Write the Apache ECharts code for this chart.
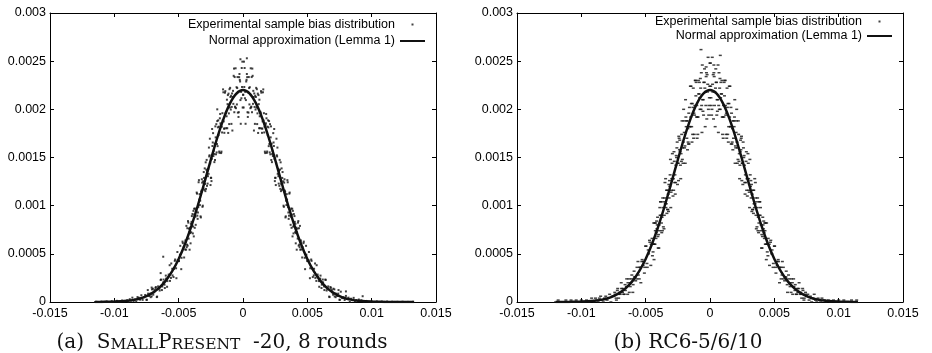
<!DOCTYPE html>
<html><head><meta charset="utf-8">
<script src="https://cdn.jsdelivr.net/npm/echarts@6/dist/echarts.min.js"></script>
<style>html,body{margin:0;padding:0;background:#fff}#c{width:932px;height:353px}</style>
</head><body><div id="c"></div>
<script>
// Units in the arrays below: x in 1e-4, y in 1e-6
const seriesNames = ['Experimental sample bias distribution', 'Normal approximation (Lemma 1)'];
const xRange = [-0.015, 0.015, 0.005];
const yRange = [0, 0.003, 0.0005];

const leftSamples = [
[-115,0],[-114,2],[-112,0],[-110,5],[-108,1],[-106,6],[-104,0],[-102,9],[-100,3],[-98,12],[-96,4],[-94,15],[-92,7],
[-90,18],[-89,0],[-88,29],[-87,14],[-86,45],[-85,11],[-84,26],[-83,3],[-82,51],[-81,44],[-80,24],[-79,70],[-78,22],[-77,50],[-76,73],[-75,23],[-74,124],[-73,62],[-72,87],[-71,58],[-70,138],[-69,102],[-68,145],[-67,51],[-66,162],[-65,140],[-64,229],[-63,124],[-62,204],[-61,180],[-60,274],[-59,158],[-58,263],[-57,382],[-56,250],[-55,345],[-54,259],[-53,427],[-52,350],[-51,519],[-50,425],[-49,491],[-48,341],[-47,627],[-46,571],[-45,545],[-44,790],[-43,585],[-42,761],[-41,715],[-40,832],[-39,712],[-38,968],[-37,886],[-36,1136],[-35,929],[-34,1063],[-33,889],[-32,1274],[-31,1252],[-30,1165],[-29,1450],[-28,1206],[-27,1382],[-26,1523],[-25,1289],[-24,1796],[-23,1515],[-22,1643],[-21,1533],[-20,1878],[-19,1732],[-18,1907],[-17,1546],[-16,1960],[-15,1875],[-14,2173],[-13,1804],[-12,2054],[-11,1958],[-10,2223],[-9,1849],[-8,2128],[-7,2423],[-6,2020],[-5,2230],[-4,1966],[-3,2334],[-2,2096],[-1,2429],[0,2151],[1,2232],[2,1850],[3,2367],[4,2178],[5,2051],[6,2426],[7,1970],[8,2192],[9,2025],[10,2128],[11,1847],[12,2148],[13,1928],[14,2189],[15,1799],[16,1884],[17,1561],[18,1952],[19,1820],[20,1618],[21,1846],[22,1474],[23,1570],[24,1619],[25,1289],[26,1695],[27,1330],[28,1360],[29,1174],[30,1387],[31,1180],[32,1239],[33,878],[34,1120],[35,985],[36,1125],[37,801],[38,906],[39,783],[40,892],[41,609],[42,723],[43,840],[44,569],[45,639],[46,462],[47,611],[48,459],[49,583],[50,425],[51,433],[52,247],[53,441],[54,343],[55,276],[56,400],[57,219],[58,285],[59,217],[60,243],[61,145],[62,233],[63,161],[64,233],[65,119],[66,141],[67,56],[68,156],[69,124],[70,76],[71,131],[72,50],[73,74],[74,87],[75,23],[76,107],[77,40],[78,50],[79,21],[80,63],[81,32],[82,45],[83,0],[84,34],[85,19],[86,43],[87,2],[88,20],[89,7],[90,26],
[-44.5,622],[-43.5,595],[-42.5,824],[-41.5,543],[-40.5,812],[-39.5,793],[-38.5,946],[-37.5,770],[-36.5,951],[-35.5,896],[-34.5,1243],[-33.5,1006],[-32.5,1144],[-31.5,988],[-30.5,1349],[-29.5,1226],[-28.5,1374],[-27.5,1229],[-26.5,1603],[-25.5,1440],[-24.5,1255],[-23.5,1656],[-22.5,1536],[-21.5,1823],[-20.5,1553],[-19.5,1813],[-18.5,1562],[-17.5,1855],[-16.5,1820],[-15.5,2207],[-14.5,1756],[-13.5,1959],[-12.5,2100],[-11.5,1755],[-10.5,2209],[-9.5,1998],[-8.5,2165],[-7.5,2057],[-6.5,2335],[-5.5,2012],[-4.5,2221],[-3.5,1921],[-2.5,2306],[-1.5,2181],[-0.5,2495],[0.5,2019],[1.5,2115],[2.5,2289],[3.5,1970],[4.5,2335],[5.5,2158],[6.5,2028],[7.5,2348],[8.5,1780],[9.5,2141],[10.5,2019],[11.5,2163],[12.5,1804],[13.5,1974],[14.5,1802],[15.5,2177],[16.5,1760],[17.5,1840],[18.5,1548],[19.5,1886],[20.5,1640],[21.5,1709],[22.5,1452],[23.5,1753],[24.5,1486],[25.5,1214],[26.5,1511],[27.5,1306],[28.5,1475],[29.5,1151],[30.5,1288],[31.5,1000],[32.5,1156],[33.5,1052],[34.5,1265],[35.5,863],[36.5,940],[37.5,970],[38.5,681],[39.5,913],[40.5,724],[41.5,771],[42.5,658],[43.5,766],[44.5,543],
[75.25,23],[74.25,124],[73.25,62],[72.25,87],[71.25,58],[70.25,138],[69.25,102],[68.25,145],[67.25,51],[66.25,162],[65.25,140],[64.25,229],[63.25,124],[62.25,204],[61.25,180],[60.25,274],[59.25,158],[58.25,263],[57.25,382],[56.25,250],[55.25,345],[54.25,259],[53.25,427],[52.25,350],[51.25,519],[50.25,425],[49.25,491],[48.25,341],[47.25,627],[46.25,571],[45.25,545],[44.25,790],[43.25,585],[42.25,761],[41.25,715],[40.25,832],[39.25,712],[38.25,968],[37.25,886],[36.25,1136],[35.25,929],[34.25,1063],[33.25,889],[32.25,1274],[31.25,1252],[30.25,1165],[29.25,1450],[28.25,1206],[27.25,1382],[26.25,1523],[25.25,1289],[24.25,1796],[23.25,1515],[22.25,1643],[21.25,1533],[20.25,1878],[19.25,1732],[18.25,1907],[17.25,1546],[16.25,1960],[15.25,1875],[14.25,2173],[13.25,1804],[12.25,2054],[11.25,1958],[10.25,2223],[9.25,1849],[8.25,2128],[7.25,2423],[6.25,2020],[5.25,2230],[4.25,1966],[3.25,2334],[2.25,2096],[1.25,2429],[0.25,2151],
[-0.75,2232],[-1.75,1850],[-2.75,2367],[-3.75,2178],[-4.75,2051],[-5.75,2426],[-6.75,1970],[-7.75,2192],[-8.75,2025],[-9.75,2128],[-10.75,1847],[-11.75,2148],[-12.75,1928],[-13.75,2189],[-14.75,1799],[-15.75,1884],[-16.75,1561],[-17.75,1952],[-18.75,1820],[-19.75,1618],[-20.75,1846],[-21.75,1474],[-22.75,1570],[-23.75,1619],[-24.75,1289],[-25.75,1695],[-26.75,1330],[-27.75,1360],[-28.75,1174],[-29.75,1387],[-30.75,1180],[-31.75,1239],[-32.75,878],[-33.75,1120],[-34.75,985],[-35.75,1125],[-36.75,801],[-37.75,906],[-38.75,783],[-39.75,892],[-40.75,609],[-41.75,723],[-42.75,840],[-43.75,569],[-44.75,639],[-45.75,462],[-46.75,611],[-47.75,459],[-48.75,583],[-49.75,425],[-50.75,433],[-51.75,247],[-52.75,441],[-53.75,343],[-54.75,276],[-55.75,400],[-56.75,219],[-57.75,285],[-58.75,217],[-59.75,243],[-60.75,145],[-61.75,233],[-62.75,161],[-63.75,233],[-64.75,119],[-65.75,141],[-66.75,56],[-67.75,156],[-68.75,124],[-69.75,76],[-70.75,131],[-71.75,50],[-72.75,74],[-73.75,87],[-74.75,23],
[44.75,622],[43.75,595],[42.75,824],[41.75,543],[40.75,812],[39.75,793],[38.75,946],[37.75,770],[36.75,951],[35.75,896],[34.75,1243],[33.75,1006],[32.75,1144],[31.75,988],[30.75,1349],[29.75,1226],[28.75,1374],[27.75,1229],[26.75,1603],[25.75,1440],[24.75,1255],[23.75,1656],[22.75,1536],[21.75,1823],[20.75,1553],[19.75,1813],[18.75,1562],[17.75,1855],[16.75,1820],[15.75,2207],[14.75,1756],[13.75,1959],[12.75,2100],[11.75,1755],[10.75,2209],[9.75,1998],[8.75,2165],[7.75,2057],[6.75,2335],[5.75,2012],[4.75,2221],[3.75,1921],[2.75,2306],[1.75,2181],[0.75,2495],
[-0.25,2019],[-1.25,2115],[-2.25,2289],[-3.25,1970],[-4.25,2335],[-5.25,2158],[-6.25,2028],[-7.25,2348],[-8.25,1780],[-9.25,2141],[-10.25,2019],[-11.25,2163],[-12.25,1804],[-13.25,1974],[-14.25,1802],[-15.25,2177],[-16.25,1760],[-17.25,1840],[-18.25,1548],[-19.25,1886],[-20.25,1640],[-21.25,1709],[-22.25,1452],[-23.25,1753],[-24.25,1486],[-25.25,1214],[-26.25,1511],[-27.25,1306],[-28.25,1475],[-29.25,1151],[-30.25,1288],[-31.25,1000],[-32.25,1156],[-33.25,1052],[-34.25,1265],[-35.25,863],[-36.25,940],[-37.25,970],[-38.25,681],[-39.25,913],[-40.25,724],[-41.25,771],[-42.25,658],[-43.25,766],[-44.25,543],
[92,18],[94,4],[96,11],[98,2],[100,9],[102,1],[104,6],[106,0],[108,4],[110,2],[112,5],[114,0],[116,3],[118,1],[120,2],[122,0],[124,3],[126,0],[128,1],[130,0],[132,2],
[-62,470],[-64,300],[-71,150],[80,110],[93,60],[-2,2520],[3,2530],[-20,2000]
];

const leftCurve = [
[-115,0.5],[-110,1],[-105,2],[-100,4],[-95,7],[-90,13],[-85,22],[-80,37],[-75,61],[-70,97],[-65,149],[-60,222],[-55,320],[-50,447],[-45,605],[-40,793],[-35,1007],[-30,1239],[-25,1477],[-20,1705],[-15,1906],[-10,2064],[-5,2165],[0,2200],[5,2165],[10,2064],[15,1906],[20,1705],[25,1477],[30,1239],[35,1007],[40,793],[45,605],[50,447],[55,320],[60,222],[65,149],[70,97],[75,61],[80,37],[85,22],[90,13],[95,7],[100,4],[105,2],[110,1],[115,0.5],[120,0.2],[125,0.1],[130,0],[133,0]
];

const rightSamples = [
[-120,0],[-118,20],[-116,0],[-114,0],[-112,20],[-110,0],[-108,20],[-106,0],[-104,20],[-102,0],[-100,20],[-98,0],[-96,20],[-94,0],[-92,40],
[-90,0],[-89,40],[-88,20],[-87,0],[-86,40],[-85,60],[-84,20],[-83,0],[-82,40],[-81,60],[-80,20],[-79,40],[-78,80],[-77,0],[-76,60],[-75,60],[-74,100],[-73,40],[-72,120],[-71,40],[-70,100],[-69,200],[-68,100],[-67,80],[-66,180],[-65,160],[-64,80],[-63,240],[-62,160],[-61,240],[-60,100],[-59,320],[-58,260],[-57,240],[-56,420],[-55,240],[-54,360],[-53,420],[-52,380],[-51,300],[-50,580],[-49,400],[-48,540],[-47,640],[-46,380],[-45,660],[-44,600],[-43,820],[-42,660],[-41,800],[-40,700],[-39,980],[-38,900],[-37,740],[-36,1040],[-35,1240],[-34,1020],[-33,960],[-32,1220],[-31,1320],[-30,1160],[-29,1280],[-28,1560],[-27,1120],[-26,1500],[-25,1440],[-24,1700],[-23,1420],[-22,1740],[-21,1440],[-20,1760],[-19,2100],[-18,1700],[-17,1660],[-16,2020],[-15,1920],[-14,1660],[-13,2220],[-12,1940],[-11,2140],[-10,1700],[-9,2300],[-8,2120],[-7,2000],[-6,2460],[-5,1940],[-4,2220],[-3,2340],[-2,2180],[-1,1940],[0,2480],[1,2040],[2,2260],[3,2380],[4,1820],[5,2280],[6,2100],[7,2380],[8,2000],[9,2160],[10,1920],[11,2280],[12,2040],[13,1700],[14,2060],[15,2240],[16,1820],[17,1640],[18,1880],[19,1920],[20,1600],[21,1660],[22,1880],[23,1280],[24,1580],[25,1440],[26,1600],[27,1240],[28,1460],[29,1100],[30,1280],[31,1480],[32,1080],[33,960],[34,1160],[35,1020],[36,760],[37,1080],[38,820],[39,900],[40,560],[41,880],[42,720],[43,600],[44,820],[45,480],[46,600],[47,620],[48,500],[49,360],[50,580],[51,360],[52,420],[53,440],[54,200],[55,360],[56,280],[57,360],[58,220],[59,260],[60,180],[61,280],[62,200],[63,100],[64,200],[65,240],[66,120],[67,80],[68,140],[69,140],[70,80],[71,80],[72,140],[73,20],[74,80],[75,60],[76,80],[77,20],[78,60],[79,0],[80,40],[81,80],[82,20],[83,0],[84,40],[85,20],[86,0],[87,40],[88,20],[89,20],[90,0],
[-44.5,600],[-43.5,440],[-42.5,740],[-41.5,840],[-40.5,680],[-39.5,800],[-38.5,1040],[-37.5,720],[-36.5,980],[-35.5,900],[-34.5,1280],[-33.5,920],[-32.5,1120],[-31.5,1260],[-30.5,980],[-29.5,1440],[-28.5,1280],[-27.5,1240],[-26.5,1420],[-25.5,1660],[-24.5,1260],[-23.5,1680],[-22.5,1540],[-21.5,1480],[-20.5,2000],[-19.5,1620],[-18.5,1820],[-17.5,1580],[-16.5,1960],[-15.5,1820],[-14.5,2060],[-13.5,1740],[-12.5,1960],[-11.5,2300],[-10.5,1920],[-9.5,1740],[-8.5,2160],[-7.5,2320],[-6.5,2040],[-5.5,1980],[-4.5,2280],[-3.5,2180],[-2.5,1900],[-1.5,2540],[-0.5,2120],[0.5,2240],[1.5,2000],[2.5,2360],[3.5,2040],[4.5,2420],[5.5,2100],[6.5,1760],[7.5,2220],[8.5,2280],[9.5,1920],[10.5,2040],[11.5,2300],[12.5,1740],[13.5,2020],[14.5,1820],[15.5,2240],[16.5,1640],[17.5,1800],[18.5,1880],[19.5,1440],[20.5,1880],[21.5,1600],[22.5,1460],[23.5,1560],[24.5,1720],[25.5,1220],[26.5,1520],[27.5,1320],[28.5,1160],[29.5,1540],[30.5,1140],[31.5,1200],[32.5,940],[33.5,1160],[34.5,980],[35.5,1080],[36.5,780],[37.5,880],[38.5,1040],[39.5,740],[40.5,560],[41.5,760],[42.5,820],[43.5,600],[44.5,520],
[75.25,60],[74.25,100],[73.25,40],[72.25,120],[71.25,40],[70.25,100],[69.25,200],[68.25,100],[67.25,80],[66.25,180],[65.25,160],[64.25,80],[63.25,240],[62.25,160],[61.25,240],[60.25,100],[59.25,320],[58.25,260],[57.25,240],[56.25,420],[55.25,240],[54.25,360],[53.25,420],[52.25,380],[51.25,300],[50.25,580],[49.25,400],[48.25,540],[47.25,640],[46.25,380],[45.25,660],[44.25,600],[43.25,820],[42.25,660],[41.25,800],[40.25,700],[39.25,980],[38.25,900],[37.25,740],[36.25,1040],[35.25,1240],[34.25,1020],[33.25,960],[32.25,1220],[31.25,1320],[30.25,1160],[29.25,1280],[28.25,1560],[27.25,1120],[26.25,1500],[25.25,1440],[24.25,1700],[23.25,1420],[22.25,1740],[21.25,1440],[20.25,1760],[19.25,2100],[18.25,1700],[17.25,1660],[16.25,2020],[15.25,1920],[14.25,1660],[13.25,2220],[12.25,1940],[11.25,2140],[10.25,1700],[9.25,2300],[8.25,2120],[7.25,2000],[6.25,2460],[5.25,1940],[4.25,2220],[3.25,2340],[2.25,2180],[1.25,1940],[0.25,2480],
[-0.75,2040],[-1.75,2260],[-2.75,2380],[-3.75,1820],[-4.75,2280],[-5.75,2100],[-6.75,2380],[-7.75,2000],[-8.75,2160],[-9.75,1920],[-10.75,2280],[-11.75,2040],[-12.75,1700],[-13.75,2060],[-14.75,2240],[-15.75,1820],[-16.75,1640],[-17.75,1880],[-18.75,1920],[-19.75,1600],[-20.75,1660],[-21.75,1880],[-22.75,1280],[-23.75,1580],[-24.75,1440],[-25.75,1600],[-26.75,1240],[-27.75,1460],[-28.75,1100],[-29.75,1280],[-30.75,1480],[-31.75,1080],[-32.75,960],[-33.75,1160],[-34.75,1020],[-35.75,760],[-36.75,1080],[-37.75,820],[-38.75,900],[-39.75,560],[-40.75,880],[-41.75,720],[-42.75,600],[-43.75,820],[-44.75,480],[-45.75,600],[-46.75,620],[-47.75,500],[-48.75,360],[-49.75,580],[-50.75,360],[-51.75,420],[-52.75,440],[-53.75,200],[-54.75,360],[-55.75,280],[-56.75,360],[-57.75,220],[-58.75,260],[-59.75,180],[-60.75,280],[-61.75,200],[-62.75,100],[-63.75,200],[-64.75,240],[-65.75,120],[-66.75,80],[-67.75,140],[-68.75,140],[-69.75,80],[-70.75,80],[-71.75,140],[-72.75,20],[-73.75,80],[-74.75,60],
[44.75,600],[43.75,440],[42.75,740],[41.75,840],[40.75,680],[39.75,800],[38.75,1040],[37.75,720],[36.75,980],[35.75,900],[34.75,1280],[33.75,920],[32.75,1120],[31.75,1260],[30.75,980],[29.75,1440],[28.75,1280],[27.75,1240],[26.75,1420],[25.75,1660],[24.75,1260],[23.75,1680],[22.75,1540],[21.75,1480],[20.75,2000],[19.75,1620],[18.75,1820],[17.75,1580],[16.75,1960],[15.75,1820],[14.75,2060],[13.75,1740],[12.75,1960],[11.75,2300],[10.75,1920],[9.75,1740],[8.75,2160],[7.75,2320],[6.75,2040],[5.75,1980],[4.75,2280],[3.75,2180],[2.75,1900],[1.75,2540],[0.75,2120],
[-0.25,2240],[-1.25,2000],[-2.25,2360],[-3.25,2040],[-4.25,2420],[-5.25,2100],[-6.25,1760],[-7.25,2220],[-8.25,2280],[-9.25,1920],[-10.25,2040],[-11.25,2300],[-12.25,1740],[-13.25,2020],[-14.25,1820],[-15.25,2240],[-16.25,1640],[-17.25,1800],[-18.25,1880],[-19.25,1440],[-20.25,1880],[-21.25,1600],[-22.25,1460],[-23.25,1560],[-24.25,1720],[-25.25,1220],[-26.25,1520],[-27.25,1320],[-28.25,1160],[-29.25,1540],[-30.25,1140],[-31.25,1200],[-32.25,940],[-33.25,1160],[-34.25,980],[-35.25,1080],[-36.25,780],[-37.25,880],[-38.25,1040],[-39.25,740],[-40.25,560],[-41.25,760],[-42.25,820],[-43.25,600],[-44.25,520],
[92,20],[94,0],[96,20],[98,0],[100,20],[102,0],[104,20],[106,0],[108,0],[110,20],[112,0],[114,20],
[-7,2620],[8,2560],[3,2460],[-3,2440]
];

const rightCurve = [
[-120,0.2],[-115,0.5],[-110,1],[-105,2],[-100,4],[-95,7],[-90,13],[-85,22],[-80,37],[-75,61],[-70,97],[-65,149],[-60,222],[-55,320],[-50,447],[-45,605],[-40,793],[-35,1007],[-30,1239],[-25,1477],[-20,1705],[-15,1906],[-10,2064],[-5,2165],[0,2200],[5,2165],[10,2064],[15,1906],[20,1705],[25,1477],[30,1239],[35,1007],[40,793],[45,605],[50,447],[55,320],[60,222],[65,149],[70,97],[75,61],[80,37],[85,22],[90,13],[95,7],[100,4],[105,2],[110,1],[115,0.5]
];

const conv = arr => arr.map(p => [p[0] * 1e-4, p[1] * 1e-6]);

const SANS = 'Liberation Sans';
const black = '#000';
const fs = 12.5;
const dotIcon = 'path://M0 0 L0 0 Z M25 2 L25 2 Z M11.5 0 L13.5 0 L13.5 2 L11.5 2 Z';

function axisX(grid, pos, labels) {
  return {
    type: 'value', gridIndex: grid, position: pos,
    min: xRange[0], max: xRange[1], interval: xRange[2],
    axisLine: { show: true, onZero: false, lineStyle: { color: black, width: 1 } },
    axisTick: { show: true, inside: true, length: 4, lineStyle: { color: black } },
    axisLabel: { show: labels, color: black, fontFamily: SANS, fontSize: fs, margin: 5 },
    splitLine: { show: false }
  };
}
function axisY(grid, pos, labels) {
  return {
    type: 'value', gridIndex: grid, position: pos,
    min: yRange[0], max: yRange[1], interval: yRange[2],
    axisLine: { show: true, onZero: false, lineStyle: { color: black, width: 1 } },
    axisTick: { show: true, inside: true, length: 4, lineStyle: { color: black } },
    axisLabel: { show: labels, color: black, fontFamily: SANS, fontSize: fs, margin: 4 },
    splitLine: { show: false }
  };
}

function legend(right, top, gap) {
  return {
    orient: 'vertical', align: 'right', right: right, top: top, padding: 0,
    itemGap: gap, itemWidth: 25, itemHeight: 2, selectedMode: false,
    textStyle: { color: black, fontFamily: SANS, fontSize: fs },
    data: [{ name: seriesNames[0], icon: dotIcon }, { name: seriesNames[1] }]
  };
}

const capRich = {
  sm: { fontSize: 15.5, fontFamily: 'DejaVu Serif', color: '#111', verticalAlign: 'bottom' },
  n: { fontSize: 20, fontFamily: 'DejaVu Serif', color: '#111', verticalAlign: 'bottom' }
};

const chart = echarts.init(document.getElementById('c'), null, { renderer: 'canvas' });
chart.setOption({
  animation: false,
  backgroundColor: '#fff',
  title: [
    { text: '{n|(a)  S}{sm|MALL}{n|P}{sm|RESENT}{n|  -20, 8 rounds}', left: 222, top: 333, textAlign: 'center', padding: 0,
      textStyle: { rich: capRich, fontSize: 20, fontFamily: 'DejaVu Serif', fontWeight: 'normal' } },
    { text: '{n|(b) RC6-5/6/10}', left: 688, top: 333, textAlign: 'center', padding: 0,
      textStyle: { rich: capRich, fontSize: 20, fontFamily: 'DejaVu Serif', fontWeight: 'normal' } }
  ],
  legend: [legend(506, 18, 3.5), legend(39, 15, 1.5)],
  grid: [
    { left: 50, top: 13, width: 386, height: 289 },
    { left: 517, top: 13, width: 386, height: 289 }
  ],
  xAxis: [axisX(0, 'bottom', true), axisX(0, 'top', false), axisX(1, 'bottom', true), axisX(1, 'top', false)],
  yAxis: [axisY(0, 'left', true), axisY(0, 'right', false), axisY(1, 'left', true), axisY(1, 'right', false)],
  series: [
    { name: seriesNames[0], type: 'scatter', xAxisIndex: 0, yAxisIndex: 0, symbol: 'rect', symbolSize: [2, 2],
      itemStyle: { color: '#111' }, data: conv(leftSamples), z: 2 },
    { name: seriesNames[1], type: 'line', xAxisIndex: 0, yAxisIndex: 0, symbol: 'none', smooth: 0.3,
      lineStyle: { color: '#111', width: 2.5 }, itemStyle: { color: '#111' }, data: conv(leftCurve), z: 3 },
    { name: seriesNames[0], type: 'scatter', xAxisIndex: 2, yAxisIndex: 2, symbol: 'rect', symbolSize: [3, 1.5],
      itemStyle: { color: '#111' }, data: conv(rightSamples), z: 2 },
    { name: seriesNames[1], type: 'line', xAxisIndex: 2, yAxisIndex: 2, symbol: 'none', smooth: 0.3,
      lineStyle: { color: '#111', width: 2.5 }, itemStyle: { color: '#111' }, data: conv(rightCurve), z: 3 }
  ]
});
</script></body></html>
